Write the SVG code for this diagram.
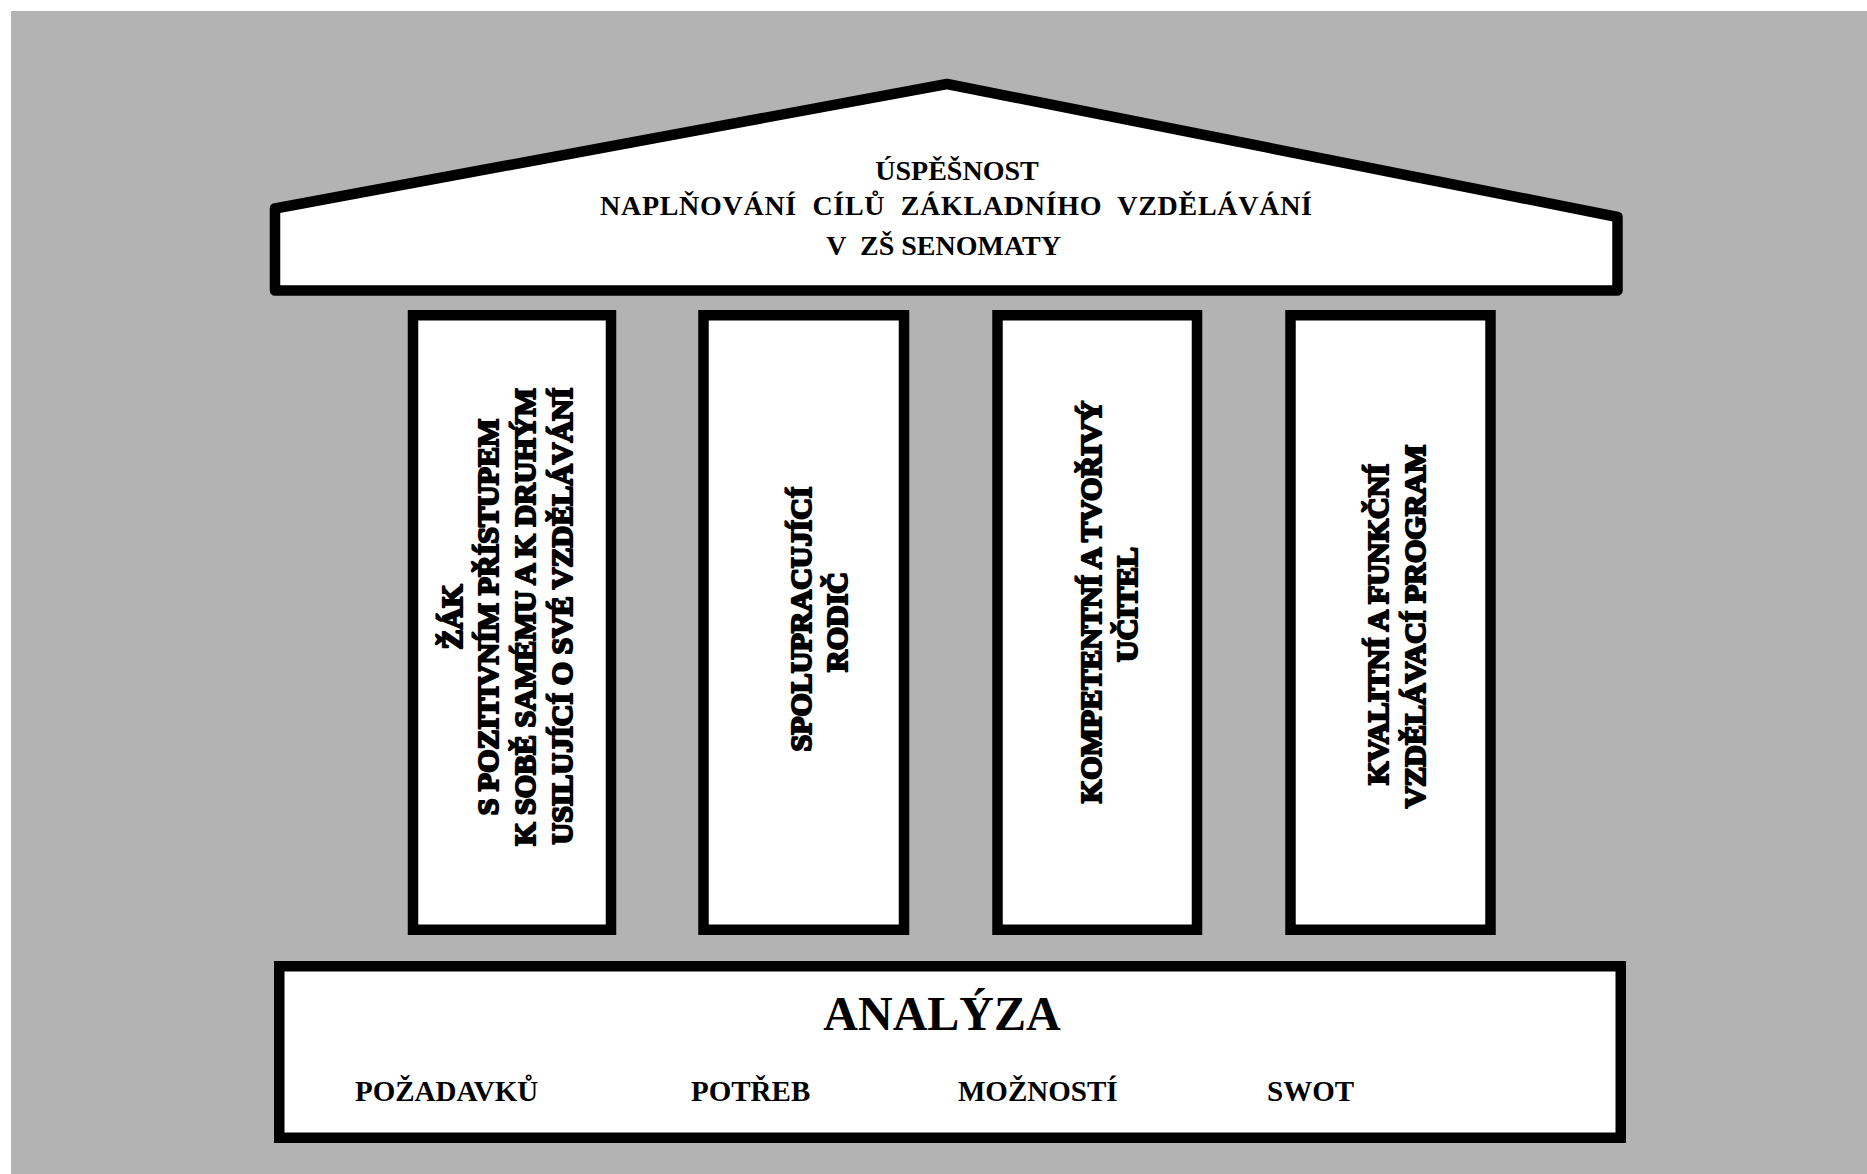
<svg xmlns="http://www.w3.org/2000/svg" width="1867" height="1174" viewBox="0 0 1867 1174">
<style>
.box{fill:#ffffff;stroke:#000000;stroke-width:10.5}
.t{font-family:"Liberation Serif","Times New Roman",serif;font-weight:bold;fill:#000000}
.roof{font-size:28px;text-anchor:middle}
.base{font-size:29px}
.col{font-size:30px;text-anchor:middle;stroke:#000000;stroke-width:2.2;stroke-linejoin:round}
</style>
<rect x="0" y="0" width="1867" height="1174" fill="#ffffff"/>
<rect x="11" y="11" width="1856" height="1163" fill="#b3b3b3"/>
<g id="roof">
<path class="box" stroke-linejoin="round" d="M275,208.5 L947,84 L1617.5,217 L1617.5,290.5 L275,290.5 Z"/>
<text class="t roof" x="957" y="180">ÚSPĚŠNOST</text>
<text class="t roof" x="956" y="215" xml:space="preserve" textLength="712" lengthAdjust="spacing">NAPLŇOVÁNÍ  CÍLŮ  ZÁKLADNÍHO  VZDĚLÁVÁNÍ</text>
<text class="t roof" x="1061" y="255" style="text-anchor:end" xml:space="preserve">V  ZŠ SENOMATY</text>
</g>
<g id="pillar1">
<rect class="box" x="413" y="315.25" width="198" height="614.5"/>
<text class="t col" x="462" y="617" transform="rotate(-90 462 617)">ŽÁK</text>
<text class="t col" x="498" y="617" transform="rotate(-90 498 617)">S POZITIVNÍM PŘÍSTUPEM</text>
<text class="t col" x="535" y="617" transform="rotate(-90 535 617)">K SOBĚ SAMÉMU A K DRUHÝM</text>
<text class="t col" x="572" y="616" transform="rotate(-90 572 616)">USILUJÍCÍ O SVÉ VZDĚLÁVÁNÍ</text>
</g>
<g id="pillar2">
<rect class="box" x="703.5" y="315.25" width="200.5" height="614.5"/>
<text class="t col" x="811" y="619" transform="rotate(-90 811 619)">SPOLUPRACUJÍCÍ</text>
<text class="t col" x="847" y="622" transform="rotate(-90 847 622)">RODIČ</text>
</g>
<g id="pillar3">
<rect class="box" x="997.5" y="315.25" width="199.5" height="614.5"/>
<text class="t col" x="1101" y="602" transform="rotate(-90 1101 602)">KOMPETENTNÍ A TVOŘIVÝ</text>
<text class="t col" x="1137" y="604.5" transform="rotate(-90 1137 604.5)">UČITEL</text>
</g>
<g id="pillar4">
<rect class="box" x="1290.5" y="315.25" width="200" height="614.5"/>
<text class="t col" x="1388" y="624.5" transform="rotate(-90 1388 624.5)">KVALITNÍ A FUNKČNÍ</text>
<text class="t col" x="1425" y="626.5" transform="rotate(-90 1425 626.5)">VZDĚLÁVACÍ PROGRAM</text>
</g>
<g id="base">
<rect class="box" x="279.25" y="966.25" width="1341.5" height="171.5"/>
<text class="t" x="942" y="1030" style="font-size:48px;text-anchor:middle">ANALÝZA</text>
<text class="t base" x="355" y="1101">POŽADAVKŮ</text>
<text class="t base" x="691" y="1101">POTŘEB</text>
<text class="t base" x="958" y="1101">MOŽNOSTÍ</text>
<text class="t base" x="1267" y="1101">SWOT</text>
</g>
<g id="connectors"></g>
</svg>
